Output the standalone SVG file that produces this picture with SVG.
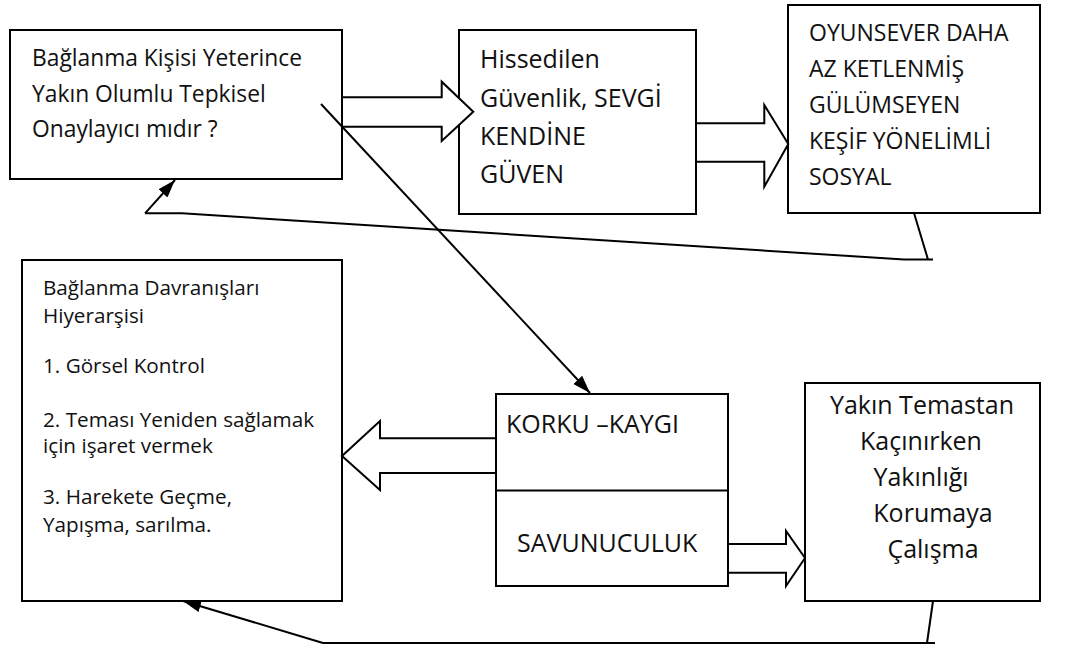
<svg xmlns="http://www.w3.org/2000/svg" width="1066" height="648" viewBox="0 0 1066 648">
<style>
.box{fill:#fff;stroke:#000;stroke-width:2}
.fat{fill:#fff;stroke:#000;stroke-width:2;stroke-linejoin:miter}
.ln{fill:none;stroke:#000;stroke-width:2}
text{font-family:"Open Sans","Noto Sans","DejaVu Sans",sans-serif;fill:#111}
.t22{font-size:22.8px}
.t23{font-size:23px}
.t20{font-size:20.7px}
.t24{font-size:25px}
.t25{font-size:25px}
</style>
<defs>
<marker id="ah" markerUnits="userSpaceOnUse" markerWidth="20" markerHeight="14" refX="18" refY="6" orient="auto">
<path d="M0,0 L18,6 L0,12 z" fill="#000"/>
</marker>
</defs>
<rect width="1066" height="648" fill="#fff"/>

<g id="node-baglanma-kisisi">
<rect class="box" x="10" y="30" width="332" height="149"/>
<text class="t22" x="32" y="65.7">Bağlanma Kişisi Yeterince</text>
<text class="t22" x="32" y="101.5">Yakın Olumlu Tepkisel</text>
<text class="t22" x="32" y="136.7">Onaylayıcı mıdır ?</text>
</g>

<g id="node-hissedilen">
<rect class="box" x="459" y="30" width="237" height="184"/>
<text class="t24" x="480" y="68.3">Hissedilen</text>
<text class="t24" x="480" y="106.5">Güvenlik, SEVGİ</text>
<text class="t24" x="480" y="145">KENDİNE</text>
<text class="t24" x="480" y="183.3">GÜVEN</text>
</g>

<g id="node-oyunsever">
<rect class="box" x="788" y="5" width="252" height="208"/>
<text class="t23" x="809" y="41">OYUNSEVER DAHA</text>
<text class="t23" x="809" y="77">AZ KETLENMİŞ</text>
<text class="t23" x="809" y="113">GÜLÜMSEYEN</text>
<text class="t23" x="809" y="149">KEŞİF YÖNELİMLİ</text>
<text class="t23" x="809" y="185">SOSYAL</text>
</g>

<g id="node-hiyerarsi">
<rect class="box" x="22" y="260" width="320" height="341"/>
<text class="t20" x="43" y="295">Bağlanma Davranışları</text>
<text class="t20" x="43" y="323.3">Hiyerarşisi</text>
<text class="t20" x="43" y="373.3">1. Görsel Kontrol</text>
<text class="t20" x="43" y="427.3">2. Teması Yeniden sağlamak</text>
<text class="t20" x="43" y="453.3">için işaret vermek</text>
<text class="t20" x="43" y="504">3. Harekete Geçme,</text>
<text class="t20" x="43" y="531.7">Yapışma, sarılma.</text>
</g>

<g id="node-korku">
<rect class="box" x="496" y="394" width="232" height="192"/>
<line class="ln" x1="496" y1="490.5" x2="728" y2="490.5"/>
<text class="t25" x="506" y="433">KORKU –KAYGI</text>
<text class="t25" x="517" y="552.3">SAVUNUCULUK</text>
</g>

<g id="node-yakin-temas">
<rect class="box" x="805" y="383" width="235" height="218"/>
<text class="t25" x="922" y="414" text-anchor="middle">Yakın Temastan</text>
<text class="t25" x="921" y="450" text-anchor="middle">Kaçınırken</text>
<text class="t25" x="921" y="486" text-anchor="middle">Yakınlığı</text>
<text class="t25" x="933" y="522" text-anchor="middle">Korumaya</text>
<text class="t25" x="933" y="558" text-anchor="middle">Çalışma</text>
</g>

<g id="connectors">
<polygon class="fat" points="342,97.3 441.7,97.3 441.7,81.7 473.3,111.7 441.7,141 441.7,126.7 342,126.7"/>
<polygon class="fat" points="696,123.3 764.3,123.3 764.3,105 788.3,144 764.3,186.7 764.3,161.7 696,161.7"/>
<polygon class="fat" points="496,438.3 380,438.3 380,421 342,456 380,490 380,473 496,473"/>
<polygon class="fat" points="728,544 786,544 786,531 805,558 786,586 786,572.7 728,572.7"/>
<line class="ln" x1="321" y1="104" x2="590" y2="393" marker-end="url(#ah)"/>
<polyline class="ln" points="914,213 928,259.5"/>
<polyline class="ln" points="933,259.5 904,259.5 182,213.3 145,213.3"/>
<line class="ln" x1="145" y1="213.3" x2="175" y2="180" marker-end="url(#ah)"/>
<polyline class="ln" points="933,601 927,643"/>
<polyline class="ln" points="935,643 323,643"/>
<line class="ln" x1="323" y1="643" x2="183" y2="601" marker-end="url(#ah)"/>
</g>
</svg>
